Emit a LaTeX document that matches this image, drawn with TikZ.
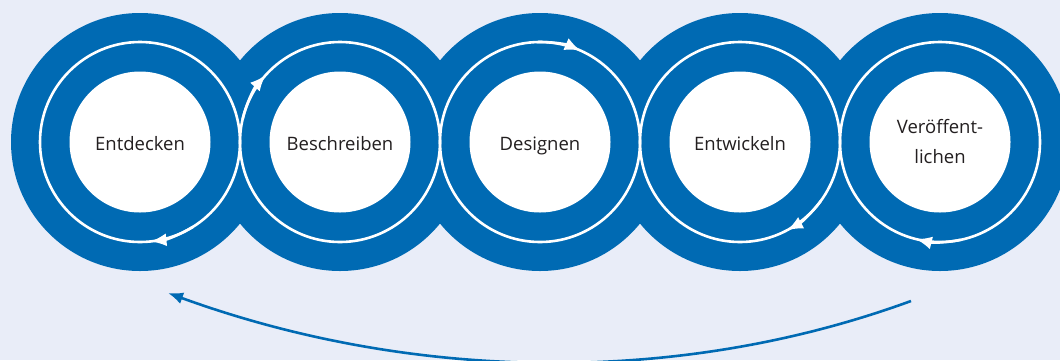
\documentclass[tikz,border=0pt]{standalone}
\usepackage{fontspec}
\setmainfont{Open Sans}
\usetikzlibrary{arrows.meta}
\definecolor{bgpale}{RGB}{233,237,248}
\definecolor{cycleblue}{RGB}{0,106,179}
\definecolor{labelgray}{RGB}{35,31,32}
\begin{document}
\begin{tikzpicture}[x=1pt,y=-1pt,
  outerdisc/.style={circle, fill=cycleblue, minimum size=258pt, inner sep=0pt},
  core/.style={circle, fill=white, minimum size=141pt, inner sep=0pt, align=center,
    font=\fontsize{18.5}{30}\selectfont, text=labelgray},
  oneline/.style={core, text height=16pt, text depth=0pt},
  ring/.style={white, line width=2.6pt},
  ringtip/.style={white, line width=2.6pt, -{Latex[length=16pt,width=13pt]}},
  looparrow/.style={cycleblue, line width=2.6pt, -{Latex[length=15pt,width=12pt]}}]
\useasboundingbox (0,0) rectangle (1060,360);
\fill[bgpale] (0,0) rectangle (1060,360);
\clip (0,0) rectangle (1060,360);

% blue outer discs
\foreach \i/\cx in {1/140,2/340,3/540,4/740,5/940}
  \node[outerdisc] (o\i) at (\cx,142) {};

% white rings, one per phase
\foreach \i in {1,...,5}
  \draw[ring] (o\i.center) circle[radius=100];

% clockwise arrow tips on the rings
\draw[ringtip] ([shift={(58:100)}]o1.center) arc[start angle=58, end angle=84, radius=100];
\draw[ringtip] ([shift={(193:100)}]o2.center) arc[start angle=193, end angle=222, radius=100];
\draw[ringtip] ([shift={(268:100)}]o3.center) arc[start angle=268, end angle=294, radius=100];
\draw[ringtip] ([shift={(36:100)}]o4.center) arc[start angle=36, end angle=62, radius=100];
\draw[ringtip] ([shift={(78:100)}]o5.center) arc[start angle=78, end angle=104, radius=100];

% phase labels
\node[oneline] (c1) at (o1.center) {Entdecken};
\node[oneline] (c2) at (o2.center) {Beschreiben};
\node[oneline] (c3) at (o3.center) {Designen};
\node[oneline] (c4) at (o4.center) {Entwickeln};
\node[core] (c5) at (o5.center) {Veröffent-\\lichen};

% return loop from the last phase back to the first
\coordinate (loopstart) at (911,301);
\coordinate (loopend) at (168,293);
\draw[looparrow] (loopstart) .. controls (673,388) and (407,380) .. (loopend);
\end{tikzpicture}
\end{document}
